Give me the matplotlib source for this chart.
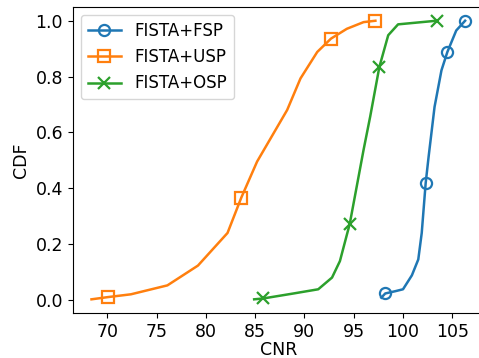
import matplotlib
matplotlib.use('Agg')
import matplotlib.pyplot as plt

# CNR values and CDF levels
fsp_cnr = [97.8, 98.2, 99.2, 100.0, 100.9, 101.55, 101.9, 102.3, 102.6, 103.2, 103.9, 104.5, 105.4, 106.3]
fsp_cdf = [0.007, 0.022, 0.030, 0.037, 0.087, 0.144, 0.239, 0.418, 0.513, 0.691, 0.822, 0.888, 0.965, 1.0]
fsp_marks = [1, 7, 11, 13]

usp_cnr = [68.4, 70.07, 72.4, 76.1, 79.2, 82.2, 83.6, 85.2, 88.25, 89.6, 91.3, 92.7, 94.3, 96.0, 97.2]
usp_cdf = [0.001, 0.009, 0.019, 0.051, 0.122, 0.239, 0.366, 0.495, 0.68, 0.793, 0.888, 0.936, 0.971, 0.995, 1.0]
usp_marks = [1, 6, 11, 14]

osp_cnr = [84.9, 85.8, 88.9, 91.4, 92.8, 93.6, 94.6, 96.0, 96.67, 97.6, 98.5, 99.5, 103.4]
osp_cdf = [0.001, 0.004, 0.022, 0.037, 0.079, 0.138, 0.272, 0.537, 0.656, 0.834, 0.948, 0.987, 1.0]
osp_marks = [1, 6, 9, 12]

x_ticks = [70, 75, 80, 85, 90, 95, 100, 105]
y_ticks = [0.0, 0.2, 0.4, 0.6, 0.8, 1.0]

fig = plt.figure(figsize=(4.79, 3.58), dpi=100)
ax = fig.add_axes([0.152, 0.125, 0.858, 0.856])

common = dict(lw=1.8, ms=8, mew=1.6, mfc='none')
ax.plot(fsp_cnr, fsp_cdf, color='tab:blue', marker='o', markevery=fsp_marks,
        label='FISTA+FSP', **common)
ax.plot(usp_cnr, usp_cdf, color='tab:orange', marker='s', markevery=usp_marks,
        label='FISTA+USP', **common)
ax.plot(osp_cnr, osp_cdf, color='tab:green', marker='x', markevery=osp_marks,
        label='FISTA+OSP', **common)

ax.set_xticks(x_ticks)
ax.set_yticks(y_ticks)
ax.tick_params(labelsize=12.5)
ax.set_xlabel('CNR', fontsize=12.5, labelpad=0)
ax.set_ylabel('CDF', fontsize=12.5)
ax.legend(loc='upper left', fontsize=12)

fig.savefig('out.png', dpi=100)
